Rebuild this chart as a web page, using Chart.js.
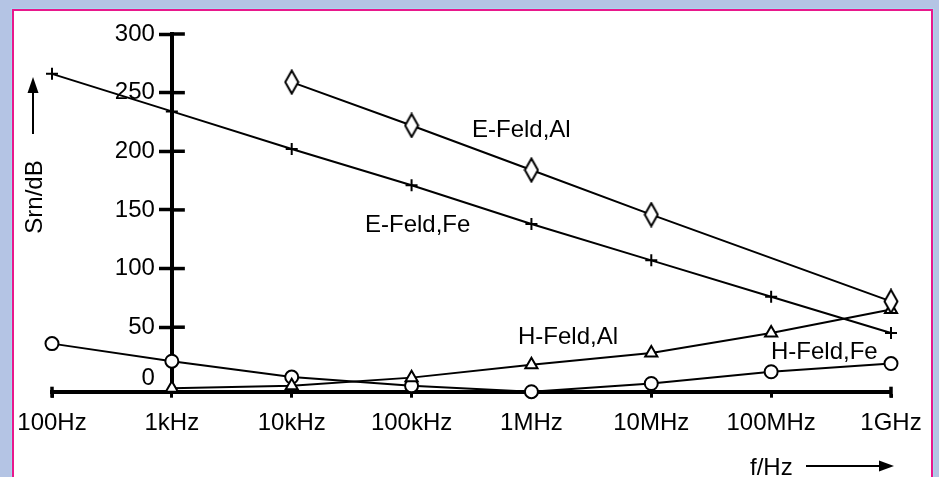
<!DOCTYPE html>
<html>
<head>
<meta charset="utf-8">
<script src="https://cdn.jsdelivr.net/npm/chart.js@4.4.1/dist/chart.umd.min.js"></script>
<style>
  html, body { margin:0; padding:0; width:939px; height:477px; overflow:hidden; background:#b4c4e4; }
  #panel { position:absolute; left:12px; top:9px; width:917px; height:480px; background:#fff;
           border:2px solid #e8188c; border-bottom:none; outline:1px solid #a6d6f0; }
  #wrap { position:absolute; left:0; top:0; width:939px; height:477px; }
</style>
</head>
<body>
<div id="panel"></div>
<div id="wrap"><canvas id="c" width="939" height="477"></canvas></div>
<script>
// ---- data ----
const categories = ['100Hz', '1kHz', '10kHz', '100kHz', '1MHz', '10MHz', '100MHz', '1GHz'];
const yTicks = [0, 50, 100, 150, 200, 250, 300];
const eFeldFe = [266, 234, 202, 171, 138, 107, 76, 45];
const eFeldAl = [null, null, 259, 222, 184, 146, null, 72];
const hFeldAl = [null, -2, 0, 7, 18, 28, 45, 65];
const hFeldFe = [36, 21, 7.5, 0, -5, 2, 12, 19];
const seriesNames = ['E-Feld,Fe', 'E-Feld,Al', 'H-Feld,Al', 'H-Feld,Fe'];
const yTitle = 'Srn/dB';
const xTitle = 'f/Hz';

const FONT = '"Liberation Sans", Arial, Helvetica, sans-serif';

// tall diamond marker
const diamond = document.createElement('canvas');
diamond.width = 16; diamond.height = 26;
(function(){
  const g = diamond.getContext('2d');
  g.beginPath();
  g.moveTo(8, 1.5); g.lineTo(14.5, 13); g.lineTo(8, 24.5); g.lineTo(1.5, 13); g.closePath();
  g.fillStyle = '#fff'; g.fill();
  g.lineWidth = 2; g.strokeStyle = '#000'; g.stroke();
})();

function ds(label, data, style, radius) {
  return {
    label, data, pointStyle: style, pointRadius: radius, pointHoverRadius: radius,
    borderColor: '#000', backgroundColor: '#fff', borderWidth: 2,
    pointBorderColor: '#000', pointBackgroundColor: '#fff', pointBorderWidth: 2,
    tension: 0, spanGaps: true, clip: false, fill: false
  };
}

const annotate = {
  id: 'annotate',
  afterDraw(chart) {
    const ctx = chart.ctx;
    const y = chart.scales.y, x = chart.scales.x;
    const ax = x.getPixelForValue(1);
    ctx.save();
    // right half of the crossing y tick marks
    ctx.strokeStyle = '#000'; ctx.lineWidth = 3.5;
    yTicks.forEach(v => {
      if (v === 0) return;
      const py = y.getPixelForValue(v);
      ctx.beginPath(); ctx.moveTo(ax, py); ctx.lineTo(ax + 13, py); ctx.stroke();
    });
    // end caps of x axis
    const by = chart.chartArea.bottom;
    [0, categories.length - 1].forEach(i => {
      const px = x.getPixelForValue(i);
      ctx.beginPath(); ctx.moveTo(px, by - 5); ctx.lineTo(px, by + 6); ctx.stroke();
    });
    ctx.fillStyle = '#000';
    // y tick labels (left of the axis at 1kHz)
    ctx.font = '24px ' + FONT;
    ctx.textAlign = 'right'; ctx.textBaseline = 'middle';
    yTicks.forEach(v => {
      const py = y.getPixelForValue(v) + (v === 0 ? -7 : 0);
      ctx.fillText(String(v), ax - 17, py);
    });
    // series labels
    ctx.font = '24px ' + FONT;
    ctx.textAlign = 'left'; ctx.textBaseline = 'alphabetic';
    ctx.fillText(seriesNames[1], 472, 137);
    ctx.fillText(seriesNames[0], 365, 232);
    ctx.fillText(seriesNames[2], 518, 344);
    ctx.fillText(seriesNames[3], 771, 359);
    // x title + arrow
    ctx.fillText(xTitle, 750, 475);
    ctx.lineWidth = 2;
    ctx.beginPath(); ctx.moveTo(806, 466); ctx.lineTo(882, 466); ctx.stroke();
    ctx.beginPath(); ctx.moveTo(894, 466); ctx.lineTo(879, 460.5); ctx.lineTo(879, 471.5); ctx.closePath(); ctx.fill();
    // y title + arrow
    ctx.save();
    ctx.translate(42, 197);
    ctx.rotate(-Math.PI / 2);
    ctx.textAlign = 'center';
    ctx.fillText(yTitle, 0, 0);
    ctx.restore();
    ctx.beginPath(); ctx.moveTo(33, 134); ctx.lineTo(33, 90); ctx.stroke();
    ctx.beginPath(); ctx.moveTo(33, 77); ctx.lineTo(27.5, 93); ctx.lineTo(38.5, 93); ctx.closePath(); ctx.fill();
    ctx.restore();
  }
};

new Chart(document.getElementById('c'), {
  type: 'line',
  data: {
    labels: categories,
    datasets: [
      ds(seriesNames[0], eFeldFe, 'cross', 6),
      ds(seriesNames[1], eFeldAl, diamond, 8),
      ds(seriesNames[2], hFeldAl, 'triangle', 7),
      ds(seriesNames[3], hFeldFe, 'circle', 6.5)
    ]
  },
  options: {
    responsive: false,
    animation: false,
    events: [],
    layout: { padding: { left: 52, right: 48, top: 34, bottom: 27.5 } },
    plugins: { legend: { display: false }, tooltip: { enabled: false } },
    scales: {
      x: {
        type: 'category',
        offset: false,
        position: 'bottom',
        border: { display: true, color: '#000', width: 4 },
        grid: { drawOnChartArea: false, drawTicks: true, tickLength: 6, tickWidth: 3, color: '#000' },
        ticks: { color: '#000', font: { family: FONT, size: 24 }, padding: 11.5, maxRotation: 0, autoSkip: false }
      },
      y: {
        type: 'linear',
        min: -5, max: 300,
        position: { x: 1 },
        afterBuildTicks(scale) { scale.ticks = yTicks.map(v => ({ value: v })); },
        border: { display: true, color: '#000', width: 4 },
        grid: { drawOnChartArea: false, drawTicks: true, tickLength: 11, tickWidth: 3.5,
                color: ctx => (ctx.tick && ctx.tick.value === 0) ? 'rgba(0,0,0,0)' : '#000' },
        ticks: { display: false }
      }
    }
  },
  plugins: [annotate]
});
</script>
</body>
</html>
